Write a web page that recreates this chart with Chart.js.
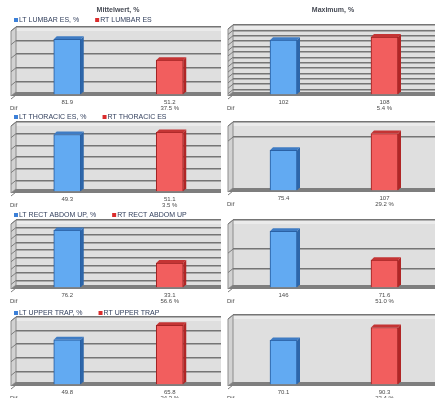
<!DOCTYPE html>
<html>
<head>
<meta charset="utf-8">
<script src="https://cdn.jsdelivr.net/npm/chart.js@4.4.1/dist/chart.umd.min.js"></script>
<style>
  html, body { margin: 0; padding: 0; background: #ffffff; }
  #wrap { position: relative; width: 437px; height: 398px; overflow: hidden; }
  #wrap canvas { position: absolute; left: 0; top: 0; }
</style>
</head>
<body>
<div id="wrap"></div>
<script>
// Muscle groups, one row of panels each
const muscles = ['LUMBAR ES', 'THORACIC ES', 'RECT ABDOM UP', 'UPPER TRAP'];
const panelTitles = ['Mittelwert, %', 'Maximum, %'];

// Mean activation (left / right side), %
const meanLeft  = [81.9, 49.3, 76.2, 49.8];
const meanRight = [51.2, 51.1, 33.1, 65.8];

// Peak activation (left / right side), %
const maxLeft  = [101.8, 75.4, 146, 70.1];
const maxRight = [107.6, 106.5, 71.6, 90.3];

// Value axis ranges and grid steps per row
const meanAxisMax  = [100, 60, 90, 75];
const meanAxisStep = [20, 10, 10, 15];
const maxAxisMax   = [130, 128, 175, 110];
const maxAxisStep  = [10, 100, 50, 100];

const FONT = '"Liberation Sans", Arial, sans-serif';
const W = 437, H = 398;

// plot boxes [left, top, right, bottom] for each row
const meanBoxes = [[16, 27, 221, 95], [16, 122, 221, 192], [16, 220, 221, 288], [16, 317, 221, 385]];
const maxBoxes  = [[233, 25, 435, 95], [233, 122, 435, 191], [233, 220, 435, 288], [233, 315, 435, 385]];
const legendY = [20, 117, 215, 313];

const BLUE = { fill: '#62aaf2', edge: '#24599b', side: '#2d66aa', top: '#3f7cc4', key: '#3c80d8' };
const RED  = { fill: '#f25e5e', edge: '#9a1f1f', side: '#b02626', top: '#c43434', key: '#da2c2c' };
const DEPTH = 3;

function fmt(v) { return v >= 100 ? String(Math.round(v)) : v.toFixed(1); }

function panelPlugin(opts) {
  return {
    id: 'panel3d',
    beforeDraw(chart) {
      const { ctx, chartArea: a } = chart;
      ctx.save();
      // back wall
      ctx.fillStyle = '#dfdfdf';
      ctx.fillRect(a.left, a.top, a.right - a.left, a.bottom - a.top);
      ctx.fillStyle = '#ebebeb';
      ctx.fillRect(a.left, a.top, a.right - a.left, 4);
      // side wall
      ctx.fillStyle = '#d2d2d2';
      ctx.beginPath();
      ctx.moveTo(a.left - 5, a.top + 4);
      ctx.lineTo(a.left, a.top);
      ctx.lineTo(a.left, a.bottom - 3);
      ctx.lineTo(a.left - 5, a.bottom + 1);
      ctx.closePath();
      ctx.fill();
      ctx.strokeStyle = '#8c8c8c';
      ctx.lineWidth = 1;
      ctx.stroke();
      // grid continued on the side wall
      const ys = chart.scales.y;
      ctx.strokeStyle = '#7c7c7c';
      ys.ticks.forEach(t => {
        const py = ys.getPixelForValue(t.value);
        ctx.beginPath();
        ctx.moveTo(a.left - 5, py + 4);
        ctx.lineTo(a.left, py);
        ctx.stroke();
      });
      ctx.restore();
    },
    beforeDatasetsDraw(chart) {
      const { ctx, chartArea: a } = chart;
      ctx.save();
      // floor
      ctx.fillStyle = '#7e7e7e';
      ctx.beginPath();
      ctx.moveTo(a.left - 5, a.bottom + 1);
      ctx.lineTo(a.left, a.bottom - 3);
      ctx.lineTo(a.right, a.bottom - 3);
      ctx.lineTo(a.right, a.bottom + 1);
      ctx.closePath();
      ctx.fill();
      ctx.restore();
    },
    afterDatasetsDraw(chart) {
      const { ctx } = chart;
      ctx.save();
      chart.data.datasets.forEach((ds, i) => {
        const pal = i === 0 ? BLUE : RED;
        chart.getDatasetMeta(i).data.forEach((el, j) => {
          if (ds.data[j] == null) return;
          const { x, y, base, width } = el.getProps(['x', 'y', 'base', 'width'], true);
          const l = x - width / 2, r = x + width / 2;
          ctx.fillStyle = pal.side;
          ctx.beginPath();
          ctx.moveTo(r, y); ctx.lineTo(r + DEPTH, y - DEPTH);
          ctx.lineTo(r + DEPTH, base - DEPTH); ctx.lineTo(r, base);
          ctx.closePath(); ctx.fill();
          ctx.fillStyle = pal.top;
          ctx.beginPath();
          ctx.moveTo(l, y); ctx.lineTo(l + DEPTH, y - DEPTH);
          ctx.lineTo(r + DEPTH, y - DEPTH); ctx.lineTo(r, y);
          ctx.closePath(); ctx.fill();
        });
      });
      ctx.restore();
    },
    afterDraw(chart) {
      const { ctx, chartArea: a } = chart;
      ctx.save();
      ctx.textBaseline = 'middle';
      // value labels below each bar
      ctx.font = '6px ' + FONT;
      ctx.fillStyle = '#4a4a4a';
      ctx.textAlign = 'center';
      const vals = [];
      chart.data.datasets.forEach((ds, i) => {
        chart.getDatasetMeta(i).data.forEach((el, j) => {
          if (ds.data[j] == null) return;
          vals.push(ds.data[j]);
          ctx.fillText(fmt(ds.data[j]), el.x, a.bottom + 7);
          if (i === 1) {
            const d = Math.abs(vals[0] - ds.data[j]) / Math.max(vals[0], ds.data[j]) * 100;
            ctx.fillText(d.toFixed(1) + ' %', el.x, a.bottom + 13);
          }
        });
      });
      ctx.textAlign = 'left';
      ctx.fillText('Dif', a.left - 6, a.bottom + 13);
      // panel title
      if (opts.title) {
        ctx.font = 'bold 7px ' + FONT;
        ctx.fillStyle = '#474b55';
        ctx.textAlign = 'center';
        ctx.fillText(opts.title, opts.titleX, 10);
      }
      // legend
      if (opts.legendY != null) {
        ctx.font = '7px ' + FONT;
        ctx.textAlign = 'left';
        let lx = a.left - 2;
        chart.data.datasets.forEach((ds, i) => {
          const pal = i === 0 ? BLUE : RED;
          ctx.fillStyle = pal.key;
          ctx.fillRect(lx, opts.legendY - 2, 4, 4);
          ctx.fillStyle = '#34415e';
          ctx.fillText(ds.label, lx + 5, opts.legendY);
          lx += 5 + ctx.measureText(ds.label).width + 16;
        });
      }
      ctx.restore();
    }
  };
}

function makePanel(box, left, right, axMax, axStep, row, opts) {
  const c = document.createElement('canvas');
  c.width = W; c.height = H;
  document.getElementById('wrap').appendChild(c);
  const m = muscles[row];
  new Chart(c, {
    type: 'bar',
    data: {
      labels: ['LT', 'RT'],
      datasets: [
        { label: 'LT ' + m + ', %', data: [left, null], backgroundColor: BLUE.fill, borderColor: BLUE.edge, borderWidth: 1, barThickness: 27 },
        { label: 'RT ' + m, data: [null, right], backgroundColor: RED.fill, borderColor: RED.edge, borderWidth: 1, barThickness: 27 }
      ]
    },
    options: {
      responsive: false,
      animation: false,
      events: [],
      layout: { padding: { left: box[0], top: box[1], right: W - box[2], bottom: H - box[3] } },
      plugins: { legend: { display: false }, title: { display: false }, tooltip: { enabled: false } },
      scales: {
        x: { display: false, stacked: true },
        y: {
          min: 0, max: axMax,
          ticks: { display: false, stepSize: axStep },
          grid: { color: '#757575', lineWidth: 1.5, drawTicks: false },
          border: { display: false }
        }
      }
    },
    plugins: [panelPlugin(opts)]
  });
}

for (let r = 0; r < muscles.length; r++) {
  makePanel(meanBoxes[r], meanLeft[r], meanRight[r], meanAxisMax[r], meanAxisStep[r], r,
    { title: r === 0 ? panelTitles[0] : null, titleX: 118, legendY: legendY[r] });
  makePanel(maxBoxes[r], maxLeft[r], maxRight[r], maxAxisMax[r], maxAxisStep[r], r,
    { title: r === 0 ? panelTitles[1] : null, titleX: 333, legendY: null });
}
</script>
</body>
</html>
